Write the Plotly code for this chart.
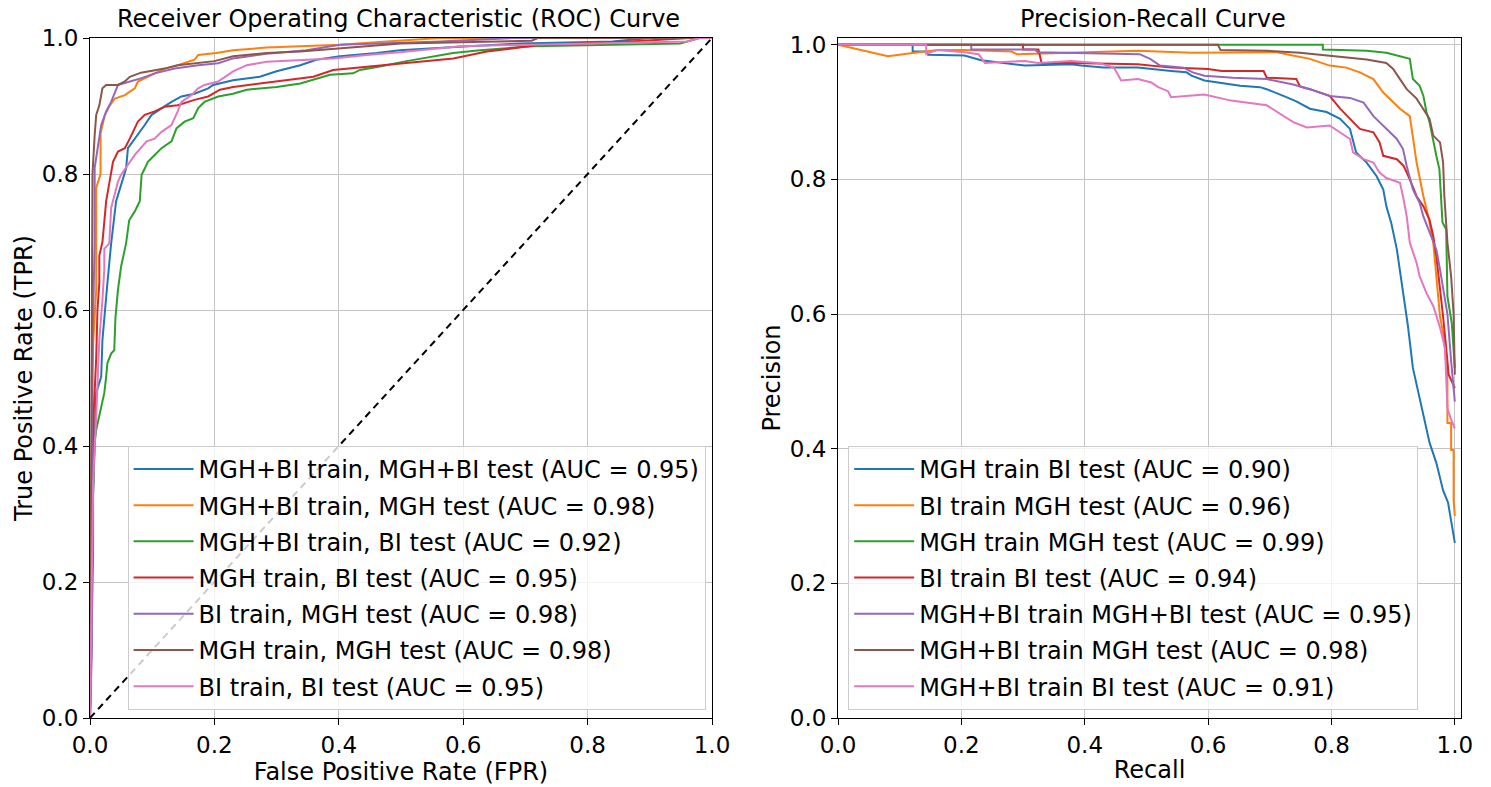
import plotly.graph_objects as go
from plotly.subplots import make_subplots

# ---- ROC curves (FPR, TPR) ----
roc_labels = ['MGH+BI train, MGH+BI test (AUC = 0.95)',
              'MGH+BI train, MGH test (AUC = 0.98)',
              'MGH+BI train, BI test (AUC = 0.92)',
              'MGH train, BI test (AUC = 0.95)',
              'BI train, MGH test (AUC = 0.98)',
              'MGH train, MGH test (AUC = 0.98)',
              'BI train, BI test (AUC = 0.95)']

roc_blue_x = [0, 0.004, 0.01, 0.018, 0.02, 0.023, 0.028, 0.034, 0.037, 0.042, 0.05, 0.058, 0.061, 0.069, 0.077, 0.088,
              0.099, 0.115, 0.131, 0.147, 0.168, 0.19, 0.198, 0.23, 0.273, 0.3, 0.338, 0.364, 0.402, 0.461, 0.498,
              0.594, 0.691, 0.84, 0.9, 1.0]
roc_blue_y = [0, 0.3, 0.478, 0.502, 0.556, 0.59, 0.64, 0.698, 0.725, 0.76, 0.784, 0.808, 0.838, 0.848, 0.857, 0.872,
              0.887, 0.897, 0.906, 0.914, 0.918, 0.926, 0.931, 0.938, 0.943, 0.951, 0.96, 0.968, 0.973, 0.978, 0.982,
              0.987, 0.992, 0.995, 1.0, 1.0]

roc_orange_x = [0, 0.002, 0.005, 0.01, 0.01, 0.017, 0.017, 0.022, 0.024, 0.032, 0.04, 0.056, 0.072, 0.077, 0.099,
                0.12, 0.141, 0.168, 0.174, 0.203, 0.23, 0.284, 0.338, 0.402, 0.477, 0.563, 1.0]
roc_orange_y = [0, 0.3, 0.55, 0.63, 0.78, 0.8, 0.86, 0.877, 0.887, 0.901, 0.911, 0.916, 0.926, 0.936, 0.946,
                0.955, 0.96, 0.968, 0.975, 0.978, 0.982, 0.986, 0.988, 0.99, 0.995, 1.0, 1.0]

roc_green_x = [0, 0.003, 0.005, 0.005, 0.007, 0.01, 0.015, 0.018, 0.023, 0.026, 0.028, 0.034, 0.039, 0.041, 0.045,
               0.05, 0.058, 0.063, 0.072, 0.08, 0.083, 0.088, 0.093, 0.104, 0.115, 0.131, 0.139, 0.152, 0.166, 0.174,
               0.184, 0.206, 0.23, 0.252, 0.3, 0.338, 0.386, 0.423, 0.434, 0.466, 0.509, 0.584, 0.627, 0.712, 0.852,
               0.949, 0.98, 1.0]
roc_green_y = [0, 0.15, 0.24, 0.33, 0.4, 0.424, 0.443, 0.458, 0.478, 0.502, 0.522, 0.536, 0.541, 0.59, 0.63,
               0.664, 0.698, 0.732, 0.745, 0.76, 0.799, 0.808, 0.818, 0.828, 0.838, 0.848, 0.867, 0.877, 0.882, 0.897,
               0.906, 0.914, 0.918, 0.924, 0.928, 0.933, 0.946, 0.948, 0.953, 0.958, 0.966, 0.978, 0.982, 0.988, 0.99,
               0.992, 1.0, 1.0]

roc_red_x = [0, 0.002, 0.004, 0.006, 0.01, 0.012, 0.015, 0.015, 0.02, 0.026, 0.032, 0.037, 0.045, 0.056, 0.064,
             0.077, 0.088, 0.104, 0.12, 0.141, 0.168, 0.19, 0.209, 0.23, 0.273, 0.316, 0.359, 0.391, 0.445, 0.498,
             0.584, 0.638, 0.68, 0.723, 0.788, 0.868, 0.965, 1.0]
roc_red_y = [0, 0.2, 0.35, 0.45, 0.53, 0.6, 0.64, 0.68, 0.7, 0.76, 0.794, 0.818, 0.833, 0.838, 0.852,
             0.877, 0.887, 0.892, 0.899, 0.901, 0.909, 0.914, 0.924, 0.928, 0.933, 0.938, 0.943, 0.953, 0.958, 0.963,
             0.97, 0.98, 0.985, 0.99, 0.992, 0.995, 1.0, 1.0]

roc_purple_x = [0, 0.003, 0.003, 0.005, 0.0075, 0.0075, 0.013, 0.018, 0.026, 0.034, 0.045, 0.066, 0.083, 0.104,
                0.136, 0.174, 0.206, 0.23, 0.284, 0.348, 0.402, 0.563, 0.68, 1.0]
roc_purple_y = [0, 0.1, 0.5, 0.6, 0.7, 0.809, 0.843, 0.872, 0.892, 0.906, 0.931, 0.936, 0.941, 0.948,
                0.955, 0.96, 0.963, 0.97, 0.977, 0.982, 0.99, 0.995, 1.0, 1.0]

roc_brown_x = [0, 0.002, 0.004, 0.004, 0.0075, 0.01, 0.015, 0.02, 0.026, 0.045, 0.056, 0.064, 0.082, 0.12, 0.141,
               0.2, 0.23, 0.284, 0.338, 0.402, 0.445, 0.5, 0.71, 0.72, 1.0]
roc_brown_y = [0, 0.35, 0.6, 0.8, 0.857, 0.887, 0.901, 0.926, 0.931, 0.931, 0.936, 0.943, 0.949, 0.955, 0.96,
               0.966, 0.973, 0.978, 0.98, 0.985, 0.988, 0.992, 0.996, 1.0, 1.0]

roc_pink_x = [0, 0.003, 0.005, 0.008, 0.01, 0.012, 0.015, 0.02, 0.023, 0.023, 0.031, 0.034, 0.045, 0.05, 0.061,
              0.072, 0.091, 0.104, 0.115, 0.131, 0.141, 0.147, 0.163, 0.174, 0.184, 0.206, 0.23, 0.252, 0.284, 0.338,
              0.391, 0.445, 0.498, 0.595, 0.788, 0.96, 0.98, 1.0]
roc_pink_y = [0, 0.2, 0.345, 0.41, 0.44, 0.49, 0.556, 0.615, 0.66, 0.69, 0.698, 0.75, 0.789, 0.799, 0.813,
              0.828, 0.848, 0.852, 0.862, 0.872, 0.892, 0.906, 0.916, 0.926, 0.931, 0.936, 0.951, 0.96, 0.965, 0.968,
              0.97, 0.975, 0.979, 0.988, 0.992, 0.995, 1.0, 1.0]

chance_x = [0, 1]
chance_y = [0, 1]

# ---- Precision-recall curves (recall, precision) ----
pr_labels = ['MGH train BI test (AUC = 0.90)',
             'BI train MGH test (AUC = 0.96)',
             'MGH train MGH test (AUC = 0.99)',
             'BI train BI test (AUC = 0.94)',
             'MGH+BI train MGH+BI test (AUC = 0.95)',
             'MGH+BI train MGH test (AUC = 0.98)',
             'MGH+BI train BI test (AUC = 0.91)']

pr_blue_x = [0, 0.121, 0.121, 0.143, 0.146, 0.205, 0.232, 0.27, 0.303, 0.378, 0.394, 0.43, 0.486, 0.54, 0.565,
             0.573, 0.594, 0.63, 0.652, 0.684, 0.695, 0.722, 0.743, 0.765, 0.792, 0.814, 0.83, 0.84, 0.857, 0.873,
             0.884, 0.889, 0.897, 0.906, 0.914, 0.919, 0.924, 0.932, 0.943, 0.951, 0.959, 0.97, 0.981, 0.989, 0.997,
             1.0]
pr_blue_y = [1.0, 1.0, 0.99, 0.99, 0.985, 0.984, 0.977, 0.973, 0.969, 0.971, 0.969, 0.966, 0.966, 0.961, 0.959,
             0.954, 0.947, 0.942, 0.939, 0.937, 0.934, 0.924, 0.916, 0.905, 0.9, 0.89, 0.875, 0.84, 0.825, 0.805,
             0.785, 0.76, 0.735, 0.696, 0.646, 0.612, 0.582, 0.52, 0.476, 0.442, 0.409, 0.379, 0.338, 0.32, 0.278,
             0.26]

pr_orange_x = [0, 0.081, 0.124, 0.162, 0.205, 0.281, 0.29, 0.378, 0.486, 0.573, 0.71, 0.727, 0.765, 0.797, 0.824,
               0.846, 0.868, 0.884, 0.9, 0.911, 0.927, 0.932, 0.938, 0.949, 0.957, 0.965, 0.976, 0.981, 0.987, 0.988,
               0.988, 0.994, 0.994, 0.998, 0.998, 1.0]
pr_orange_y = [1.0, 0.983, 0.988, 0.992, 0.992, 0.99, 0.986, 0.988, 0.991, 0.988, 0.989, 0.986, 0.979, 0.969, 0.966,
               0.959, 0.949, 0.929, 0.914, 0.905, 0.894, 0.865, 0.825, 0.775, 0.745, 0.706, 0.596, 0.572, 0.522, 0.498,
               0.438, 0.438, 0.398, 0.398, 0.324, 0.3]

pr_green_x = [0, 0.616, 0.786, 0.786, 0.857, 0.889, 0.927, 0.932, 0.943, 0.949, 0.954, 0.959, 0.964, 0.97, 0.975,
              0.98, 0.986, 0.988, 0.995, 0.998, 1.0]
pr_green_y = [1.0, 1.0, 1.0, 0.993, 0.991, 0.988, 0.979, 0.949, 0.939, 0.924, 0.9, 0.885, 0.86, 0.835, 0.815,
              0.736, 0.726, 0.626, 0.587, 0.55, 0.52]

pr_red_x = [0, 0.3, 0.3, 0.325, 0.33, 0.378, 0.486, 0.54, 0.6, 0.622, 0.69, 0.695, 0.743, 0.749, 0.765, 0.797,
            0.814, 0.83, 0.846, 0.868, 0.878, 0.884, 0.906, 0.917, 0.927, 0.938, 0.949, 0.959, 0.965, 0.97, 0.976,
            0.981, 0.987, 0.99, 1.0]
pr_red_y = [1.0, 1.0, 0.993, 0.993, 0.973, 0.973, 0.971, 0.966, 0.964, 0.961, 0.961, 0.951, 0.949, 0.938, 0.934,
            0.924, 0.905, 0.89, 0.875, 0.87, 0.855, 0.835, 0.83, 0.82, 0.8, 0.775, 0.76, 0.74, 0.716, 0.686, 0.64,
            0.596, 0.54, 0.51, 0.49]

pr_purple_x = [0, 0.216, 0.216, 0.319, 0.324, 0.475, 0.489, 0.506, 0.522, 0.56, 0.575, 0.594, 0.64, 0.695, 0.738,
               0.765, 0.797, 0.83, 0.852, 0.868, 0.889, 0.906, 0.916, 0.922, 0.932, 0.943, 0.949, 0.959, 0.97, 0.976,
               0.983, 0.988, 0.994, 1.0]
pr_purple_y = [1.0, 1.0, 0.993, 0.993, 0.989, 0.987, 0.986, 0.979, 0.969, 0.966, 0.959, 0.954, 0.951, 0.949, 0.941,
               0.934, 0.924, 0.921, 0.914, 0.894, 0.875, 0.86, 0.845, 0.82, 0.785, 0.765, 0.745, 0.721, 0.696, 0.666,
               0.626, 0.6, 0.53, 0.47]

pr_brown_x = [0, 0.616, 0.62, 0.695, 0.749, 0.803, 0.819, 0.857, 0.889, 0.9, 0.911, 0.922, 0.938, 0.949, 0.959,
              0.965, 0.976, 0.981, 0.983, 0.988, 0.994, 0.998, 1.0]
pr_brown_y = [1.0, 1.0, 0.992, 0.991, 0.988, 0.983, 0.981, 0.978, 0.973, 0.964, 0.949, 0.934, 0.92, 0.905, 0.89,
              0.865, 0.855, 0.825, 0.775, 0.706, 0.656, 0.6, 0.51]

pr_pink_x = [0, 0.143, 0.143, 0.16, 0.205, 0.228, 0.238, 0.303, 0.324, 0.378, 0.421, 0.438, 0.448, 0.459, 0.486,
             0.508, 0.519, 0.535, 0.54, 0.594, 0.637, 0.695, 0.738, 0.76, 0.797, 0.814, 0.83, 0.835, 0.852, 0.868,
             0.878, 0.889, 0.911, 0.916, 0.922, 0.927, 0.938, 0.943, 0.954, 0.965, 0.976, 0.984, 0.986, 0.988, 0.994,
             1.0]
pr_pink_y = [1.0, 1.0, 0.986, 0.992, 0.989, 0.986, 0.973, 0.976, 0.973, 0.976, 0.973, 0.969, 0.965, 0.947, 0.949,
             0.944, 0.937, 0.931, 0.922, 0.926, 0.917, 0.91, 0.885, 0.877, 0.88, 0.87, 0.86, 0.84, 0.83, 0.825,
             0.81, 0.802, 0.795, 0.775, 0.745, 0.706, 0.676, 0.656, 0.631, 0.612, 0.58, 0.55, 0.5, 0.46, 0.443,
             0.43]

colors = ['#1f77b4', '#ff7f0e', '#2ca02c', '#d62728', '#9467bd', '#8c564b', '#e377c2']

roc_x = [roc_blue_x, roc_orange_x, roc_green_x, roc_red_x, roc_purple_x, roc_brown_x, roc_pink_x]
roc_y = [roc_blue_y, roc_orange_y, roc_green_y, roc_red_y, roc_purple_y, roc_brown_y, roc_pink_y]
pr_x = [pr_blue_x, pr_orange_x, pr_green_x, pr_red_x, pr_purple_x, pr_brown_x, pr_pink_x]
pr_y = [pr_blue_y, pr_orange_y, pr_green_y, pr_red_y, pr_purple_y, pr_brown_y, pr_pink_y]

FONT = 'DejaVu Sans'

fig = make_subplots(rows=1, cols=2,
                    subplot_titles=('Receiver Operating Characteristic (ROC) Curve', 'Precision-Recall Curve'))

for i in range(7):
    fig.add_trace(go.Scatter(x=roc_x[i], y=roc_y[i], mode='lines', name=roc_labels[i],
                             line=dict(color=colors[i], width=2), legend='legend',
                             legendgroup='roc%d' % i), row=1, col=1)

fig.add_trace(go.Scatter(x=chance_x, y=chance_y, mode='lines', showlegend=False,
                         line=dict(color='black', width=2, dash='7px,5px')), row=1, col=1)

for i in range(7):
    fig.add_trace(go.Scatter(x=pr_x[i], y=pr_y[i], mode='lines', name=pr_labels[i],
                             line=dict(color=colors[i], width=2), legend='legend2',
                             legendgroup='pr%d' % i), row=1, col=2)

axis_style = dict(showline=True, mirror=True, linecolor='black', linewidth=1,
                  ticks='outside', ticklen=6, tickcolor='black', tickwidth=1,
                  showgrid=True, gridcolor='#c4c4c4', gridwidth=1, zeroline=False,
                  tickfont=dict(size=23, color='black', family=FONT),
                  tickformat='.1f', dtick=0.2, automargin=False,
                  title_font=dict(size=24, color='black', family=FONT))

fig.update_xaxes(axis_style)
fig.update_yaxes(axis_style)

fig.update_xaxes(domain=[0, 0.4537], range=[0, 1], title_text='False Positive Rate (FPR)',
                 title_standoff=4, row=1, col=1)
fig.update_yaxes(range=[0, 1], title_text='True Positive Rate (TPR)', title_standoff=2, row=1, col=1)
fig.update_xaxes(domain=[0.5456, 1], range=[0, 1.01], title_text='Recall', title_standoff=4, row=1, col=2)
fig.update_yaxes(range=[0, 1.01], title_text='Precision', title_standoff=2, row=1, col=2)

for ann in fig.layout.annotations:
    ann.font = dict(size=24, color='black', family=FONT)
    ann.yshift = 3

legend_style = dict(bgcolor='rgba(255,255,255,0.8)', bordercolor='#cccccc', borderwidth=1,
                    font=dict(size=24, color='black', family=FONT), yanchor='bottom', y=0.012,
                    traceorder='grouped', tracegroupgap=2, itemwidth=60)

fig.update_layout(
    width=1491, height=787,
    margin=dict(l=90, r=30, t=38, b=69, autoexpand=False),
    plot_bgcolor='white', paper_bgcolor='white',
    font=dict(family=FONT, size=24, color='black'),
    legend=dict(legend_style, xanchor='right', x=0.449),
    legend2=dict(legend_style, xanchor='left', x=0.553),
)

fig.write_html('out.html', config={'displayModeBar': False},
               post_script="document.body.style.margin='0';")
